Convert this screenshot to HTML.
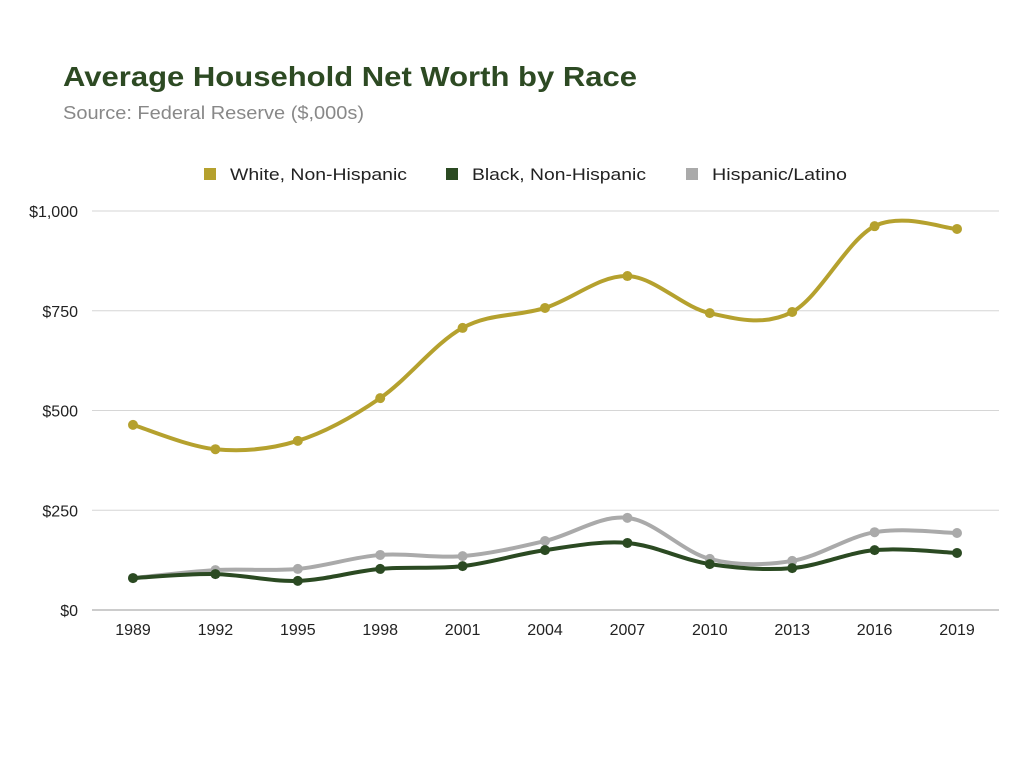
<!DOCTYPE html>
<html><head><meta charset="utf-8">
<style>
body{margin:0;background:#fff;font-family:"Liberation Sans",sans-serif;}
</style></head>
<body>
<svg width="1024" height="768" id="svg">
<text x="63" y="86" font-size="28" font-weight="bold" fill="#2d4a23" textLength="574" lengthAdjust="spacingAndGlyphs">Average Household Net Worth by Race</text>
<text x="63" y="119" font-size="18" fill="#888" textLength="301" lengthAdjust="spacingAndGlyphs">Source: Federal Reserve ($,000s)</text>
<g>
<rect x="204" y="168" width="12" height="12" fill="#b5a12e"/>
<text x="230" y="180" font-size="17" fill="#222" textLength="177" lengthAdjust="spacingAndGlyphs">White, Non-Hispanic</text>
<rect x="446" y="168" width="12" height="12" fill="#2b4a22"/>
<text x="472" y="180" font-size="17" fill="#222" textLength="174" lengthAdjust="spacingAndGlyphs">Black, Non-Hispanic</text>
<rect x="686" y="168" width="12" height="12" fill="#aaaaaa"/>
<text x="712" y="180" font-size="17" fill="#222" textLength="135" lengthAdjust="spacingAndGlyphs">Hispanic/Latino</text>
</g>
<g id="grid"></g><g id="series"></g>
</svg>
<script>
const years=[1989,1992,1995,1998,2001,2004,2007,2010,2013,2016,2019];
const white=[464,403,424,531,707,757,837,744,747,962,955];
const black=[80,90,73,103,110,150,168,115,105,150,143];
const hispanic=[80,100,103,138,135,173,231,128,123,195,193];
const yTicks=[0,250,500,750,1000];
const yLabels=["$0","$250","$500","$750","$1,000"];
const NS="http://www.w3.org/2000/svg";
const x0=133,x1=957,yBase=610,yTop=211;
const xs=i=>x0+(x1-x0)*i/(years.length-1);
const ys=v=>yBase-(yBase-yTop)*v/1000;
const grid=document.getElementById('grid'),ser=document.getElementById('series');
function mk(t,a,p){const e=document.createElementNS(NS,t);for(const k in a)e.setAttribute(k,a[k]);p.appendChild(e);return e;}
yTicks.forEach((t,i)=>{
 const l=mk('line',{x1:92,x2:999,y1:ys(t),y2:ys(t),stroke:t===0?'#999':'#d6d6d6','stroke-width':1},grid);
 
 
 const tx=mk('text',{x:78,y:ys(t)+6,'text-anchor':'end','font-size':16,fill:'#222'},grid);
 tx.textContent=yLabels[i];
 
 
});
years.forEach((y,i)=>{
 const tx=mk('text',{x:xs(i),y:635,'text-anchor':'middle','font-size':16,fill:'#222'},grid);
 tx.textContent=y;
 
 
});
function path(vals){
 const p=vals.map((v,i)=>[xs(i),ys(v)]);
 let d='M'+p[0][0]+','+p[0][1];
 for(let i=0;i<p.length-1;i++){
  const a=p[Math.max(0,i-1)],b=p[i],c=p[i+1],e=p[Math.min(p.length-1,i+2)];
  const c1=[b[0]+(c[0]-a[0])/6,b[1]+(c[1]-a[1])/6],c2=[c[0]-(e[0]-b[0])/6,c[1]-(e[1]-b[1])/6];
  d+=' C'+c1+' '+c2+' '+c;
 }
 return d;
}
[[hispanic,'#aaaaaa','hispanic'],[black,'#2b4a22','black'],[white,'#b5a12e','white']].forEach(([vals,col,nm])=>{
 const p=mk('path',{d:path(vals),fill:'none',stroke:col,'stroke-width':4},ser);
 
 
 vals.forEach((v,i)=>{
  const c=mk('circle',{cx:xs(i),cy:ys(v),r:5,fill:col},ser);
  
  
 });
});
</script>
</body></html>
